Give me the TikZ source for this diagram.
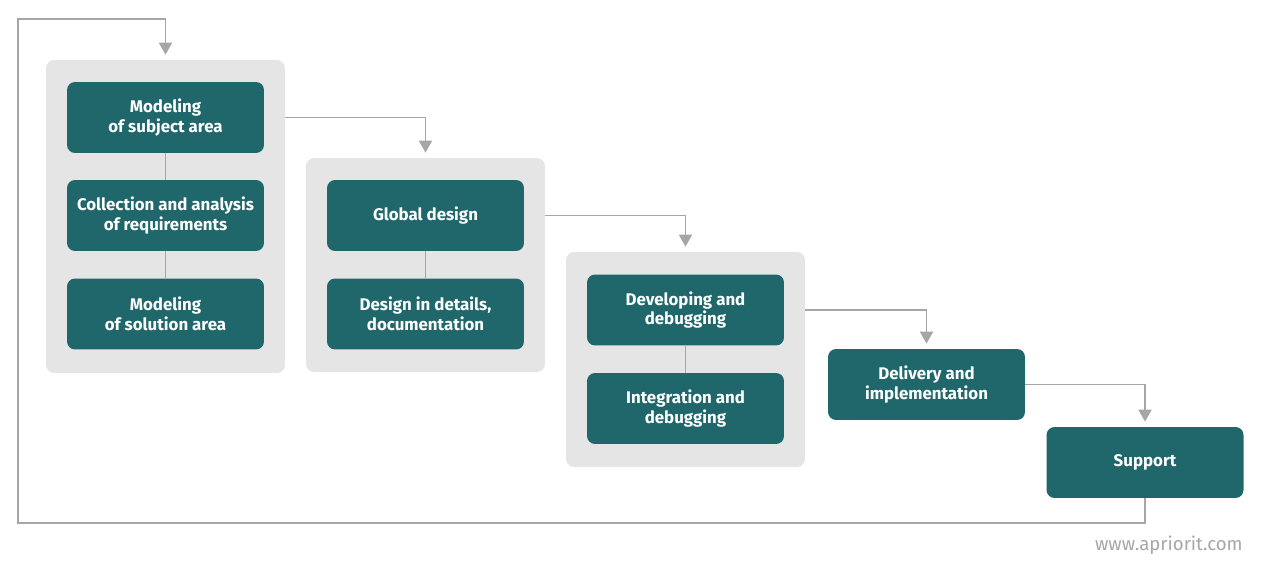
\documentclass[tikz,border=0pt]{standalone}
\usepackage{fontspec}
\setmainfont{Fira Sans}
\usetikzlibrary{arrows.meta}
\definecolor{stagebox}{RGB}{32,103,107}
\definecolor{groupbg}{RGB}{229,229,229}
\definecolor{flowline}{RGB}{166,166,166}
\begin{document}
\begin{tikzpicture}[x=0.02cm,y=-0.02cm,
    group/.style={fill=groupbg,rounded corners=0.16cm,minimum width=4.78cm,inner sep=0pt},
    stage/.style={fill=stagebox,text=white,rounded corners=0.16cm,minimum width=3.94cm,
      minimum height=1.42cm,inner sep=2pt,align=center,
      font=\fontsize{9.6}{11.3}\selectfont\bfseries},
    link/.style={draw=flowline,line width=1pt},
    flow/.style={draw=flowline,line width=1.1pt,-{Triangle[length=0.24cm,width=0.26cm]},shorten >=0.1cm}]
  \useasboundingbox (0,0) rectangle (1263,577);

  % groups
  \node[group,minimum height=6.26cm] (g1) at (165.5,216.5) {};
  \node[group,minimum height=4.28cm] (g2) at (425.5,265) {};
  \node[group,minimum height=4.3cm] (g3) at (685.5,359.5) {};

  % stages
  \node[stage] (subj) at (165.5,117.5) {Modeling\\of subject area};
  \node[stage] (req) at (165.5,215.5) {Collection and analysis\\of requirements};
  \node[stage] (sol) at (165.5,314) {Modeling\\of solution area};
  \node[stage] (glob) at (425.5,215.5) {Global design};
  \node[stage] (det) at (425.5,314) {Design in details,\\documentation};
  \node[stage] (dev) at (685.5,310) {Developing and\\debugging};
  \node[stage] (integ) at (685.5,408.5) {Integration and\\debugging};
  \node[stage] (deliv) at (926.5,384.5) {Delivery and\\implementation};
  \node[stage] (sup) at (1145,462.5) {Support};

  \draw[link] (subj) -- (req);
  \draw[link] (req) -- (sol);
  \draw[link] (glob) -- (det);
  \draw[link] (dev) -- (integ);

  % flow
  \draw[flow] (g1.east |- subj) -| (g2.north);
  \draw[flow] (g2.east |- glob) -| (g3.north);
  \draw[flow] (g3.east |- dev) -| (deliv.north);
  \draw[flow] (deliv.east) -| (sup.north);
  \coordinate (lb) at (18,523);
  \coordinate (lt) at (18,19);
  \draw[flow] (sup.south) |- (lb) -- (lt) -| (g1.north);

  \node[text=flowline,font=\fontsize{10.6}{12}\selectfont,anchor=east,inner sep=0pt] (web) at (1243,545) {www.apriorit.com};
\end{tikzpicture}
\end{document}
